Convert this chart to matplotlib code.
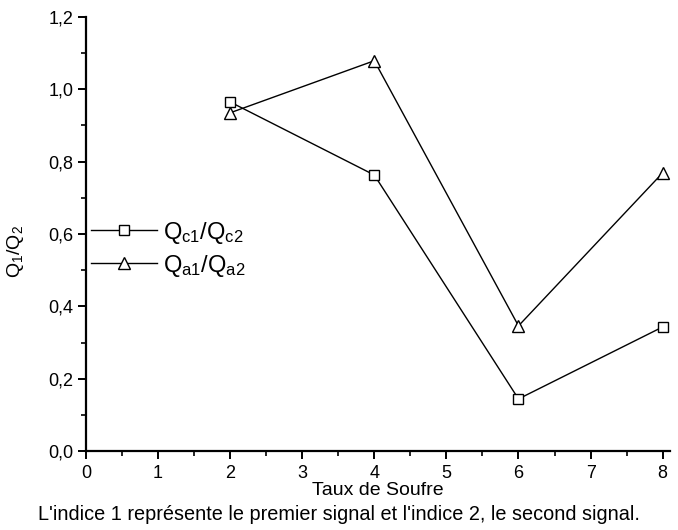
import matplotlib.pyplot as plt
from matplotlib.ticker import MultipleLocator, FuncFormatter

plt.rcParams["font.family"] = ["Liberation Sans", "DejaVu Sans"]
plt.rcParams["mathtext.default"] = "regular"

taux = [2, 4, 6, 8]
q_c = [0.965, 0.763, 0.144, 0.343]
q_a = [0.935, 1.079, 0.346, 0.769]

fig = plt.figure(figsize=(6.78, 5.30), dpi=100)
ax = fig.add_axes([0.1268, 0.149, 0.8612, 0.819])

ax.plot(taux, q_c, color="black", lw=1, marker="s", ms=6.5, mfc="white", mec="black",
        mew=1, label=r"$Q_{c1}/Q_{c2}$")
ax.plot(taux, q_a, color="black", lw=1, marker="^", ms=8, mfc="white", mec="black",
        mew=1, label=r"$Q_{a1}/Q_{a2}$")

ax.set_xlim(0, 8.1)
ax.set_ylim(0, 1.2)
ax.xaxis.set_major_locator(MultipleLocator(1))
ax.xaxis.set_minor_locator(MultipleLocator(0.5))
ax.yaxis.set_major_locator(MultipleLocator(0.2))
ax.yaxis.set_minor_locator(MultipleLocator(0.1))
ax.yaxis.set_major_formatter(FuncFormatter(lambda v, p: f"{v:.1f}".replace(".", ",")))

for s in ["top", "right"]:
    ax.spines[s].set_visible(False)
for s in ["left", "bottom"]:
    ax.spines[s].set_linewidth(1.6)
ax.tick_params(which="major", direction="out", length=6, width=1.4, labelsize=13, pad=3)
ax.tick_params(axis="x", which="major", pad=4)
ax.tick_params(which="minor", direction="out", length=3.5, width=1.2)

ax.set_ylabel(r"$Q_1/Q_2$", fontsize=14)
ax.yaxis.set_label_coords(-0.102, 0.46)
ax.set_xlabel("Taux de Soufre", fontsize=14, va="center")
ax.xaxis.set_label_coords(0.5, -0.09)

ax.legend(loc="center left", bbox_to_anchor=(0.0, 0.465), frameon=False, fontsize=17,
          handlelength=2.8, handletextpad=0.25, labelspacing=0.3, borderaxespad=0.0,
          borderpad=0.2)

fig.text(0.5, 0.012, "L'indice 1 représente le premier signal et l'indice 2, le second signal.",
         ha="center", va="bottom", fontsize=14.3)

fig.savefig("out.png", dpi=100)
